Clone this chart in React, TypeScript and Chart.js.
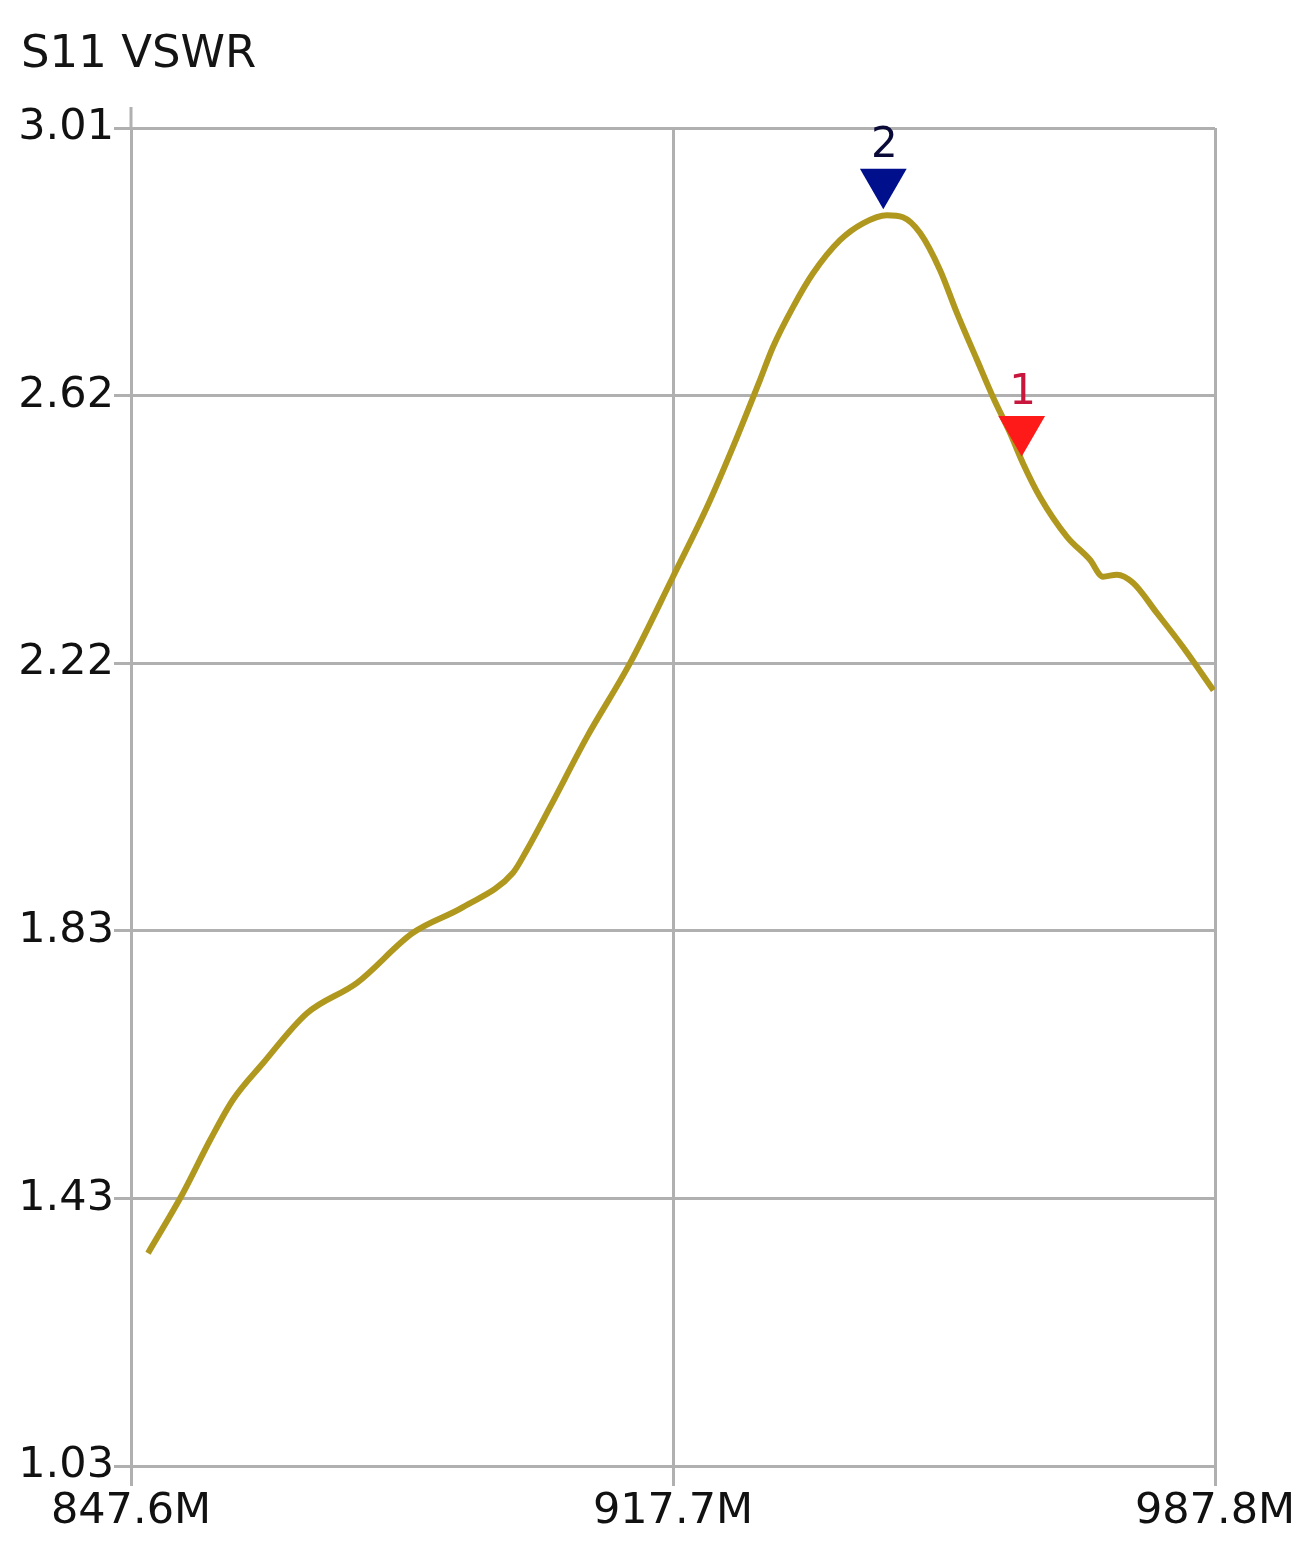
import React, { useEffect, useRef } from "react";
import { Chart, registerables } from "chart.js";

Chart.register(...registerables);

// Frequency (MHz) and S11 VSWR trace values
const freqMHz = [
  849.8, 854.33, 857.82, 860.79, 864.67, 870.36, 876.83, 884.07, 890.54, 897.01,
  898.82, 901.79, 906.58, 912.14, 917.7, 922.1, 925.46, 928.95, 930.63, 933.22,
  935.81, 939.3, 942.27, 945.37, 947.44, 949.64, 952.23, 954.43, 957.01, 959.08,
  961.28, 962.96, 965.16, 968.66, 971.63, 973.31, 975.12, 977.19, 980.3, 983.66,
  987.6,
];
const vswr = [
  1.345, 1.434, 1.512, 1.572, 1.626, 1.7, 1.745, 1.819, 1.857, 1.908,
  1.942, 2.005, 2.109, 2.218, 2.346, 2.449, 2.538, 2.637, 2.686, 2.745,
  2.795, 2.844, 2.869, 2.881, 2.878, 2.855, 2.8, 2.736, 2.667, 2.612,
  2.559, 2.514, 2.464, 2.405, 2.371, 2.346, 2.349, 2.337, 2.292, 2.242,
  2.178,
];

const xTickValues = [847.6, 917.7, 987.8];
const xTickLabels = ["847.6M", "917.7M", "987.8M"];
const yTickValues = [1.03, 1.426, 1.822, 2.218, 2.614, 3.01];
const yTickLabels = ["1.03", "1.43", "1.83", "2.22", "2.62", "3.01"];

const markerNames = ["1", "2"];
const markerFreqs = [962.8, 944.9];
const markerValues = [2.518, 2.884];
const markerColors = ["#ff1a1a", "#000f8c"];
const markerLabelColors = ["#c8163c", "#0a0a38"];

const chartTitle = "S11 VSWR";
const FONT = "DejaVu Sans";

const overlayPlugin = {
  id: "overlay",
  afterDraw(chart: any) {
    const { ctx, chartArea, scales } = chart;
    ctx.save();
    // title
    ctx.fillStyle = "#141414";
    ctx.font = `45px "${FONT}"`;
    ctx.textAlign = "left";
    ctx.textBaseline = "alphabetic";
    ctx.fillText(chartTitle, 21, 67);
    // small extension of left axis above the plot
    ctx.strokeStyle = "#b0b0b0";
    ctx.lineWidth = 3;
    ctx.beginPath();
    ctx.moveTo(chartArea.left, chartArea.top - 21);
    ctx.lineTo(chartArea.left, chartArea.top);
    ctx.stroke();
    // markers
    const r = 27;
    for (let i = 0; i < markerNames.length; i++) {
      const px = scales.x.getPixelForValue(markerFreqs[i]);
      const py = scales.y.getPixelForValue(markerValues[i]);
      const tipY = py - 4;
      const cy = tipY - r;
      ctx.fillStyle = markerColors[i];
      ctx.beginPath();
      ctx.moveTo(px, tipY);
      ctx.lineTo(px - (r * Math.sqrt(3)) / 2, cy - r / 2);
      ctx.lineTo(px + (r * Math.sqrt(3)) / 2, cy - r / 2);
      ctx.closePath();
      ctx.fill();
      ctx.fillStyle = markerLabelColors[i];
      ctx.font = `42px "${FONT}"`;
      ctx.textAlign = "center";
      ctx.textBaseline = "alphabetic";
      ctx.fillText(markerNames[i], px + 1, cy - r / 2 - 12);
    }
    ctx.restore();
  },
};

export default function App() {
  const canvasRef = useRef<HTMLCanvasElement | null>(null);

  useEffect(() => {
    const canvas = canvasRef.current;
    if (!canvas) return;
    const chart = new Chart(canvas, {
      type: "line",
      data: {
        datasets: [
          {
            data: freqMHz.map((f, i) => ({ x: f, y: vswr[i] })),
            borderColor: "#b0981e",
            borderWidth: 6,
            pointRadius: 0,
            cubicInterpolationMode: "monotone",
            fill: false,
          },
        ],
      },
      options: {
        responsive: false,
        animation: false,
        events: [],
        layout: { padding: { top: 128, right: 96, left: 0, bottom: 0 } },
        plugins: {
          legend: { display: false },
          tooltip: { enabled: false },
          title: { display: false },
        },
        scales: {
          x: {
            type: "linear",
            min: 847.6,
            max: 987.8,
            offset: false,
            afterBuildTicks: (scale: any) => {
              scale.ticks = xTickValues.map((v) => ({ value: v }));
            },
            afterFit: (scale: any) => {
              scale.height = 85;
              scale.paddingLeft = 0;
              scale.paddingRight = 0;
            },
            grid: {
              color: "#b0b0b0",
              lineWidth: 3,
              tickLength: 20,
              tickColor: "#b0b0b0",
            },
            border: { display: true, color: "#b0b0b0", width: 3 },
            ticks: {
              autoSkip: false,
              maxRotation: 0,
              padding: 0,
              color: "#111111",
              font: { family: FONT, size: 43 },
              callback: (_v: any, i: number) => xTickLabels[i],
            },
          },
          y: {
            type: "linear",
            min: 1.03,
            max: 3.01,
            afterBuildTicks: (scale: any) => {
              scale.ticks = yTickValues.map((v) => ({ value: v }));
            },
            afterFit: (scale: any) => {
              scale.width = 131;
            },
            grid: {
              color: "#b0b0b0",
              lineWidth: 3,
              tickLength: 17,
              tickColor: "#b0b0b0",
            },
            border: { display: true, color: "#b0b0b0", width: 3 },
            ticks: {
              autoSkip: false,
              padding: 0,
              color: "#111111",
              font: { family: FONT, size: 43 },
              callback: (_v: any, i: number) => yTickLabels[i],
            },
          },
        },
      },
      plugins: [overlayPlugin],
    });
    return () => chart.destroy();
  }, []);

  return (
    <div
      style={{
        position: "absolute",
        left: 0,
        top: 0,
        width: 1311,
        height: 1551,
        background: "#ffffff",
      }}
    >
      <canvas ref={canvasRef} width={1311} height={1551} />
    </div>
  );
}
